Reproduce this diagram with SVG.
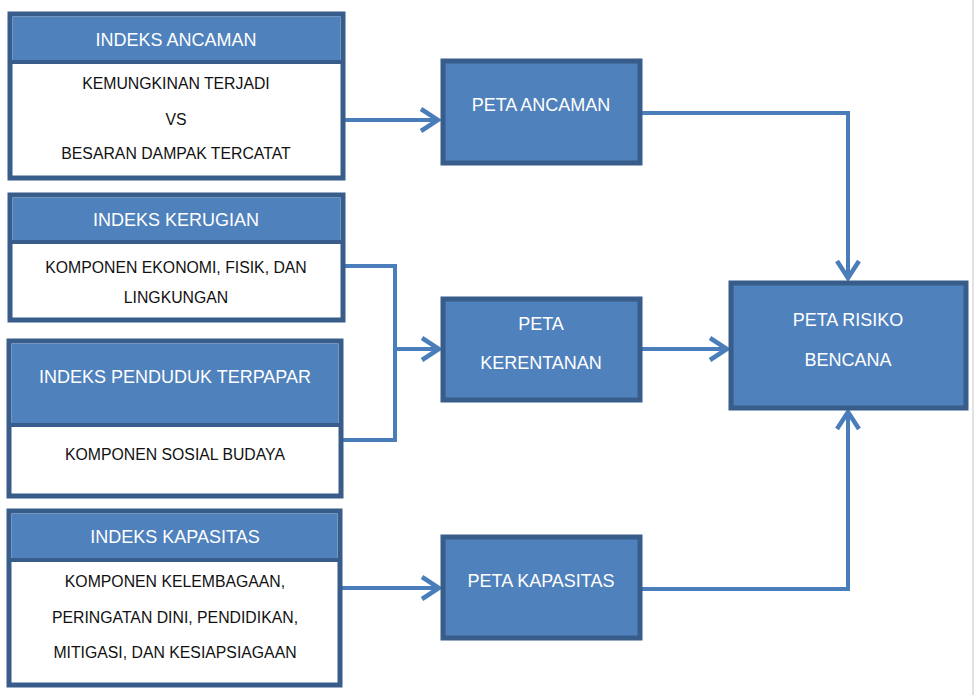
<svg xmlns="http://www.w3.org/2000/svg" width="977" height="695" viewBox="0 0 977 695">
<style>
.frame{fill:#fff;stroke:#385D8A;stroke-width:5}
.head{fill:#4F81BD}
.sep{stroke:#385D8A;stroke-width:4}
.peta{fill:#4F81BD;stroke:#385D8A;stroke-width:5}
.ht{font-family:"Liberation Sans",Arial,sans-serif;font-size:18px;fill:#fff;text-anchor:middle}
.bt{font-family:"Liberation Sans",Arial,sans-serif;font-size:15.8px;fill:#111;text-anchor:middle}
.con{fill:none;stroke:#4A7EBB;stroke-width:4}
</style>
<defs>
<marker id="arr" markerUnits="userSpaceOnUse" viewBox="-22 -16 26 32" markerWidth="26" markerHeight="32" refX="0" refY="0" orient="auto">
<path d="M-17,-11 L0,0 L-17,11" fill="none" stroke="#4A7EBB" stroke-width="4.5"/>
</marker>
</defs>
<rect x="0" y="0" width="977" height="695" fill="#fff"/>
<line x1="973" y1="0" x2="973" y2="695" stroke="#d8d8d8" stroke-width="1.5"/>

<g id="connectors">
<path class="con" d="M345,120 H438" marker-end="url(#arr)"/>
<path class="con" d="M642,113 H848 V278" marker-end="url(#arr)"/>
<path class="con" d="M345,266 H395 V440 H343"/>
<path class="con" d="M395,349 H439" marker-end="url(#arr)"/>
<path class="con" d="M642,349 H727" marker-end="url(#arr)"/>
<path class="con" d="M342,588 H439" marker-end="url(#arr)"/>
<path class="con" d="M642,589 H848 V412" marker-end="url(#arr)"/>
</g>

<g id="indeks-ancaman">
<rect class="frame" x="10" y="14" width="333" height="164"/>
<rect class="head" x="12.5" y="16.5" width="328" height="45.5"/>
<line class="sep" x1="10" y1="62" x2="343" y2="62"/>
<text class="ht" x="176" y="46">INDEKS ANCAMAN</text>
<text class="bt" x="176" y="89">KEMUNGKINAN TERJADI</text>
<text class="bt" x="176" y="125">VS</text>
<text class="bt" x="176" y="159">BESARAN DAMPAK TERCATAT</text>
</g>

<g id="indeks-kerugian">
<rect class="frame" x="10" y="195" width="333" height="125"/>
<rect class="head" x="12.5" y="197.5" width="328" height="44.5"/>
<line class="sep" x1="10" y1="242" x2="343" y2="242"/>
<text class="ht" x="176" y="226">INDEKS KERUGIAN</text>
<text class="bt" x="176" y="273">KOMPONEN EKONOMI, FISIK, DAN</text>
<text class="bt" x="176" y="303">LINGKUNGAN</text>
</g>

<g id="indeks-penduduk-terpapar">
<rect class="frame" x="9" y="341" width="332" height="155"/>
<rect class="head" x="11.5" y="343.5" width="327" height="81.5"/>
<line class="sep" x1="9" y1="425" x2="341" y2="425"/>
<text class="ht" x="175" y="383">INDEKS PENDUDUK TERPAPAR</text>
<text class="bt" x="175" y="460">KOMPONEN SOSIAL BUDAYA</text>
</g>

<g id="indeks-kapasitas">
<rect class="frame" x="9" y="511" width="331" height="174"/>
<rect class="head" x="11.5" y="513.5" width="326" height="46.5"/>
<line class="sep" x1="9" y1="560" x2="340" y2="560"/>
<text class="ht" x="175" y="543">INDEKS KAPASITAS</text>
<text class="bt" x="175" y="587">KOMPONEN KELEMBAGAAN,</text>
<text class="bt" x="175" y="623">PERINGATAN DINI, PENDIDIKAN,</text>
<text class="bt" x="175" y="658">MITIGASI, DAN KESIAPSIAGAAN</text>
</g>

<g id="peta-ancaman">
<rect class="peta" x="443" y="61" width="197" height="102"/>
<text class="ht" x="541" y="111">PETA ANCAMAN</text>
</g>

<g id="peta-kerentanan">
<rect class="peta" x="443" y="299" width="197" height="101"/>
<text class="ht" x="541" y="330">PETA</text>
<text class="ht" x="541" y="369">KERENTANAN</text>
</g>

<g id="peta-kapasitas">
<rect class="peta" x="443" y="537" width="197" height="101"/>
<text class="ht" x="541" y="587">PETA KAPASITAS</text>
</g>

<g id="peta-risiko-bencana">
<rect class="peta" x="731" y="283" width="235" height="125"/>
<text class="ht" x="848" y="326">PETA RISIKO</text>
<text class="ht" x="848" y="366">BENCANA</text>
</g>
</svg>
